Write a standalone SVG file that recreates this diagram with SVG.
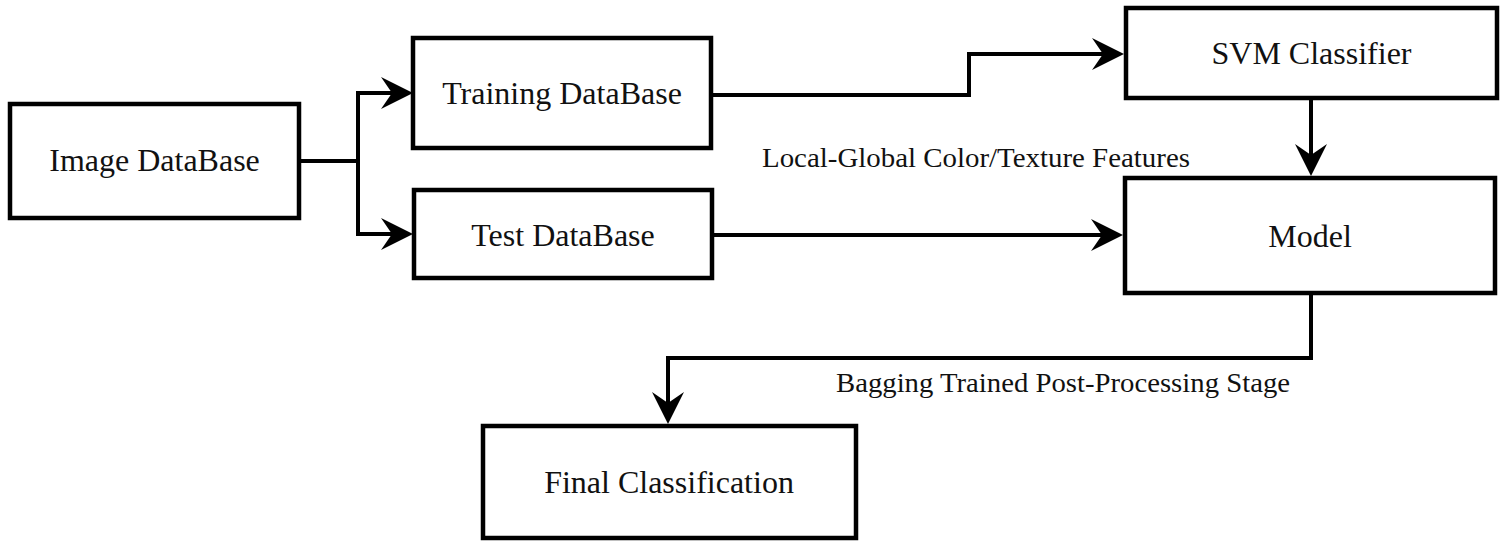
<svg xmlns="http://www.w3.org/2000/svg" width="1506" height="541" viewBox="0 0 1506 541">
  <style>
    .box { fill: #ffffff; stroke: #000000; stroke-width: 4.5; }
    .lbl { font-family: "Liberation Serif", "Times New Roman", serif; font-size: 32px; fill: #111111; text-anchor: middle; }
    .edge-lbl { font-family: "Liberation Serif", "Times New Roman", serif; font-size: 27px; fill: #111111; text-anchor: middle; }
    .wire { fill: none; stroke: #000000; stroke-width: 4; stroke-linejoin: miter; stroke-linecap: butt; }
  </style>
  <defs>
    <!-- barbed arrowhead; the line stops at the notch, the tip sits 20px further on -->
    <marker id="arrow" viewBox="-33 -17 34 34" refX="-20" refY="0" markerWidth="34" markerHeight="34" markerUnits="userSpaceOnUse" orient="auto">
      <path d="M0,0 L-32,-16 L-21,0 L-32,16 Z" fill="#000000"/>
    </marker>
  </defs>

  <rect width="1506" height="541" fill="#ffffff"/>

  <g id="connectors">
    <!-- Image DataBase splits into training and test sets -->
    <path class="wire" d="M299,161 H358"/>
    <path class="wire" d="M358,93 V234"/>
    <path class="wire" d="M356,93 H393" marker-end="url(#arrow)"/>
    <path class="wire" d="M356,234 H393" marker-end="url(#arrow)"/>
    <!-- Training DataBase to SVM Classifier -->
    <path class="wire" d="M711,95 H969 V54 H1104" marker-end="url(#arrow)"/>
    <!-- Test DataBase to Model -->
    <path class="wire" d="M712,235 H1103" marker-end="url(#arrow)"/>
    <!-- SVM Classifier to Model -->
    <path class="wire" d="M1311,98 V156" marker-end="url(#arrow)"/>
    <!-- Model to Final Classification -->
    <path class="wire" d="M1311,293 V358 H668 V404" marker-end="url(#arrow)"/>
    <text class="edge-lbl" x="976" y="167" textLength="428" lengthAdjust="spacingAndGlyphs">Local-Global Color/Texture Features</text>
    <text class="edge-lbl" x="1063" y="392" textLength="454" lengthAdjust="spacingAndGlyphs">Bagging Trained Post-Processing Stage</text>
  </g>

  <g id="image-database">
    <rect class="box" x="10" y="104" width="289" height="114"/>
    <text class="lbl" x="154.5" y="171">Image DataBase</text>
  </g>

  <g id="training-database">
    <rect class="box" x="413" y="38" width="298" height="110"/>
    <text class="lbl" x="562" y="104">Training DataBase</text>
  </g>

  <g id="test-database">
    <rect class="box" x="414" y="190" width="298" height="88"/>
    <text class="lbl" x="563" y="246">Test DataBase</text>
  </g>

  <g id="svm-classifier">
    <rect class="box" x="1126" y="8" width="371" height="90"/>
    <text class="lbl" x="1311.5" y="64">SVM Classifier</text>
  </g>

  <g id="model">
    <rect class="box" x="1125" y="178" width="370" height="115"/>
    <text class="lbl" x="1310" y="247">Model</text>
  </g>

  <g id="final-classification">
    <rect class="box" x="483" y="426" width="373" height="112"/>
    <text class="lbl" x="669" y="493">Final Classification</text>
  </g>
</svg>
